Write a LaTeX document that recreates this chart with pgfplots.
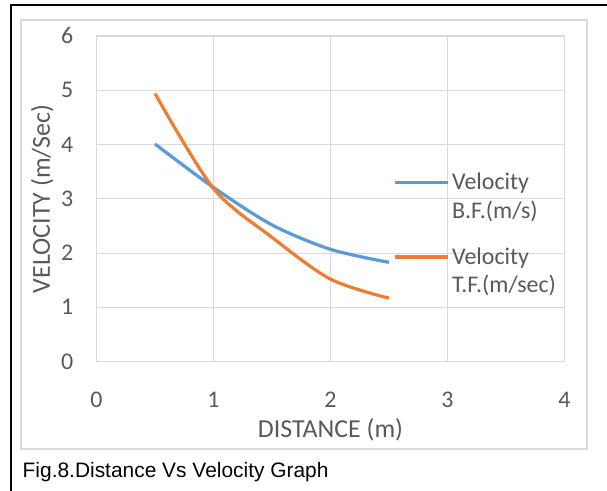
\documentclass[border=0pt]{standalone}
\usepackage{pgfplots}
\pgfplotsset{compat=1.18}
\usepackage{fontspec}
\setmainfont{Carlito}
\newfontfamily\arialfont{Liberation Sans}
\definecolor{bfblue}{HTML}{5B9BD5}
\definecolor{tforange}{HTML}{ED7D31}
\definecolor{gridgray}{HTML}{D9D9D9}
\definecolor{txtgray}{HTML}{595959}
\begin{document}
\begin{tikzpicture}[x=1bp,y=1bp]
\path[use as bounding box] (0,0) rectangle (607,491);
\draw[black, line width=2bp] (11,0) -- (11,486) -- (607,486);
\draw[gridgray, line width=1.8bp] (20.7,42) rectangle (587,471);
\begin{axis}[
  at={(96.5bp,129.3bp)}, anchor=south west,
  scale only axis, width=468bp, height=325.7bp,
  xmin=0, xmax=4, ymin=0, ymax=6,
  xtick={0,1,2,3,4}, ytick={0,1,2,3,4,5,6},
  major tick length=0pt,
  grid=major, grid style={gridgray, line width=1.2bp},
  axis line style={gridgray, line width=1.2bp},
  /pgf/number format/assume math mode=true,
  tick label style={font=\fontsize{24}{28}\selectfont, text=txtgray, inner sep=0pt},
  xticklabel style={anchor=base, yshift=-45.5bp},
  yticklabel style={anchor=base east, xshift=-23bp, yshift=-7.5bp},
  label style={font=\fontsize{26}{30}\selectfont, text=txtgray, inner sep=0pt},
  xlabel={DISTANCE (m)}, ylabel={VELOCITY (m/Sec)},
  xlabel style={at={(axis description cs:0.5,-0.2321)}, anchor=base},
  ylabel style={at={(axis description cs:-0.0994,0.5)}, anchor=base},
  legend style={at={(axis description cs:0.6335,0.5542)}, anchor=north west,
    draw=none, fill=none, inner sep=0pt, outer sep=0pt,
    row sep=71bp, column sep=3bp,
    nodes={inner sep=0pt, text=txtgray, font=\fontsize{24}{29}\selectfont}},
  legend cell align=left,
  legend image code/.code={\draw[#1, line width=3.2bp] (0bp,0bp) -- (53bp,0bp);},
]
\addplot[bfblue, line width=3.2bp, smooth] coordinates {
  (0.5,4.01) (1,3.21) (1.5,2.52) (2,2.07) (2.5,1.83)
};
\addlegendentry{\raisebox{-7.8bp}{\smash{\begin{tabular}[t]{@{}l@{}}Velocity\\B.F.(m/s)\end{tabular}}}}
\addplot[tforange, line width=3.2bp, smooth] coordinates {
  (0.5,4.94) (1,3.19) (1.5,2.29) (2,1.52) (2.5,1.17)
};
\addlegendentry{\raisebox{-7.8bp}{\smash{\begin{tabular}[t]{@{}l@{}}Velocity\\T.F.(m/sec)\end{tabular}}}}
\end{axis}
\node[anchor=base west, inner sep=0pt, font=\arialfont\fontsize{21}{25}\selectfont] at (22.5,13.7) {Fig.8.Distance Vs Velocity Graph};
\end{tikzpicture}
\end{document}
